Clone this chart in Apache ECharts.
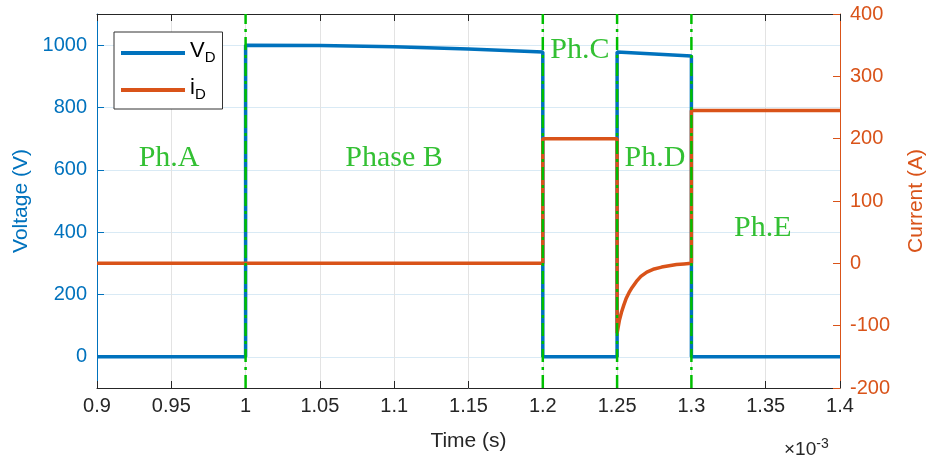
<!DOCTYPE html>
<html>
<head>
<meta charset="utf-8">
<script src="https://cdn.jsdelivr.net/npm/echarts@6/dist/echarts.min.js"></script>
<style>
html,body{margin:0;padding:0;background:#fff;}
#chart{width:930px;height:461px;}
</style>
</head>
<body>
<div id="chart"></div>
<script>
// ---- data (time in units of 1e-3 s) ----
const vTime = [0.9, 1.0, 1.0, 1.05, 1.1, 1.15, 1.2, 1.2, 1.25, 1.25, 1.275, 1.3, 1.3, 1.4];
const vVolt = [0, 0, 1000, 999, 995, 988, 978, 0, 0, 978, 972, 965, 0, 0];

const iTime = [0.9, 1.2, 1.2, 1.25, 1.25, 1.2515, 1.253, 1.2545, 1.256, 1.258, 1.26, 1.263, 1.266, 1.27, 1.275, 1.28, 1.285, 1.29, 1.295, 1.3, 1.3, 1.4];
const iAmp  = [0, 0, 200, 200, -112, -92, -78, -67, -57, -47, -39, -29, -21, -14, -9, -6, -4, -2, -1, 0, 245, 245];

const phaseBounds = [1.0, 1.2, 1.25, 1.3];
const phaseNames = ['Ph.A', 'Phase B', 'Ph.C', 'Ph.D', 'Ph.E'];
const phaseX = [0.9485, 1.0999, 1.225, 1.2755, 1.348];
const phaseY = [639, 639, 984, 639, 413];

const xTicks = [0.9, 1.4, 0.05];
const vRange = [-100, 1100];
const iRange = [-200, 400, 100];

// ---- build ----
const BLUE = '#0072BD', ORANGE = '#D95319', GREEN = '#00BE00', DARK = '#262626';
const zip = (a, b) => a.map((v, k) => [v, b[k]]);

const boundarySeries = phaseBounds.map(b => ({
  type: 'line', yAxisIndex: 0, xAxisIndex: 0,
  data: [[b, vRange[0]], [b, vRange[1]]],
  showSymbol: false, symbol: 'none', silent: true, z: 5,
  lineStyle: {color: GREEN, width: 2.5, type: [13, 5, 3, 5]}
}));

const chart = echarts.init(document.getElementById('chart'), null, {renderer: 'canvas'});
chart.setOption({
  animation: false,
  backgroundColor: '#fff',
  grid: {left: 97, right: 90, top: 14, bottom: 73, containLabel: false, outerBoundsMode: 'none'},
  legend: {
    orient: 'vertical', left: 114, top: 32,
    data: [{name: 'V_D'}, {name: 'i_D'}],
    icon: 'rect', itemWidth: 64, itemHeight: 4, itemGap: 11,
    padding: [8, 7, 6, 7],
    backgroundColor: '#fff', borderColor: '#333', borderWidth: 1,
    formatter: n => n === 'V_D' ? '{a|V}{s|D}' : '{a|i}{s|D}',
    textStyle: {
      rich: {
        a: {fontFamily: 'Liberation Sans', fontSize: 22, color: '#000', lineHeight: 24, padding: [0, 0, 4, 0]},
        s: {fontFamily: 'Liberation Sans', fontSize: 15, color: '#000', lineHeight: 24, padding: [10, 0, 0, 0]}
      }
    }
  },
  xAxis: [{
    type: 'value', min: xTicks[0], max: xTicks[1], interval: xTicks[2],
    name: 'Time (s)', nameLocation: 'middle', nameGap: 43,
    nameTextStyle: {fontFamily: 'Liberation Sans', fontSize: 21, color: DARK},
    axisLine: {show: true, onZero: false, lineStyle: {color: DARK, width: 1}},
    axisTick: {show: true, inside: true, length: 7, lineStyle: {color: DARK}},
    axisLabel: {fontFamily: 'Liberation Sans', fontSize: 20, color: DARK, margin: 8,
      formatter: v => String(parseFloat(v.toFixed(2)))},
    splitLine: {show: true, lineStyle: {color: '#e3e3e3', width: 1}}
  }, {
    type: 'value', position: 'top', min: xTicks[0], max: xTicks[1], interval: xTicks[2],
    axisLine: {show: true, onZero: false, lineStyle: {color: DARK, width: 1}},
    axisTick: {show: true, inside: true, length: 7, lineStyle: {color: DARK}},
    axisLabel: {show: false}, splitLine: {show: false}
  }],
  yAxis: [{
    type: 'value', position: 'left', min: vRange[0], max: vRange[1], splitNumber: 6,
    name: 'Voltage (V)', nameLocation: 'middle', nameGap: 62, nameRotate: 90,
    nameTextStyle: {fontFamily: 'Liberation Sans', fontSize: 21, color: BLUE},
    axisLine: {show: true, onZero: false, lineStyle: {color: BLUE, width: 1}},
    axisTick: {show: true, inside: true, length: 7, lineStyle: {color: BLUE}},
    axisLabel: {fontFamily: 'Liberation Sans', fontSize: 20, color: BLUE, margin: 10,
      showMinLabel: false, showMaxLabel: false, formatter: v => String(v)},
    splitLine: {show: true, lineStyle: {color: '#d9eaf5', width: 1}}
  }, {
    type: 'value', position: 'right', min: iRange[0], max: iRange[1], interval: iRange[2],
    name: 'Current (A)', nameLocation: 'middle', nameGap: 66, nameRotate: 90,
    nameTextStyle: {fontFamily: 'Liberation Sans', fontSize: 21, color: ORANGE},
    axisLine: {show: true, onZero: false, lineStyle: {color: ORANGE, width: 1}},
    axisTick: {show: true, inside: true, length: 7, lineStyle: {color: ORANGE}},
    axisLabel: {fontFamily: 'Liberation Sans', fontSize: 20, color: ORANGE, margin: 10, formatter: v => String(v)},
    splitLine: {show: false}
  }],
  series: [{
    name: 'V_D', type: 'line', yAxisIndex: 0, data: zip(vTime, vVolt),
    showSymbol: false, symbol: 'none', z: 3,
    lineStyle: {color: BLUE, width: 3.5}, itemStyle: {color: BLUE}
  }, {
    name: 'i_D', type: 'line', yAxisIndex: 1, data: zip(iTime, iAmp),
    showSymbol: false, symbol: 'none', z: 4, smooth: false,
    lineStyle: {color: ORANGE, width: 3.5}, itemStyle: {color: ORANGE}
  }].concat(boundarySeries).concat([{
    type: 'scatter', yAxisIndex: 0, symbolSize: 0, silent: true, z: 6,
    data: phaseNames.map((n, k) => ({name: n, value: [phaseX[k], phaseY[k]]})),
    label: {show: true, position: 'inside', formatter: p => p.name,
      fontFamily: 'Liberation Serif', fontSize: 30, color: '#00B000'}
  }]),
  graphic: [{
    type: 'text', left: 784, top: 437,
    style: {text: '×10{s|-3}', fontFamily: 'Liberation Sans', fontSize: 19, fill: DARK,
      rich: {s: {fontSize: 14, padding: [0, 0, 12, 0], fill: DARK}}}
  }]
});
</script>
</body>
</html>
